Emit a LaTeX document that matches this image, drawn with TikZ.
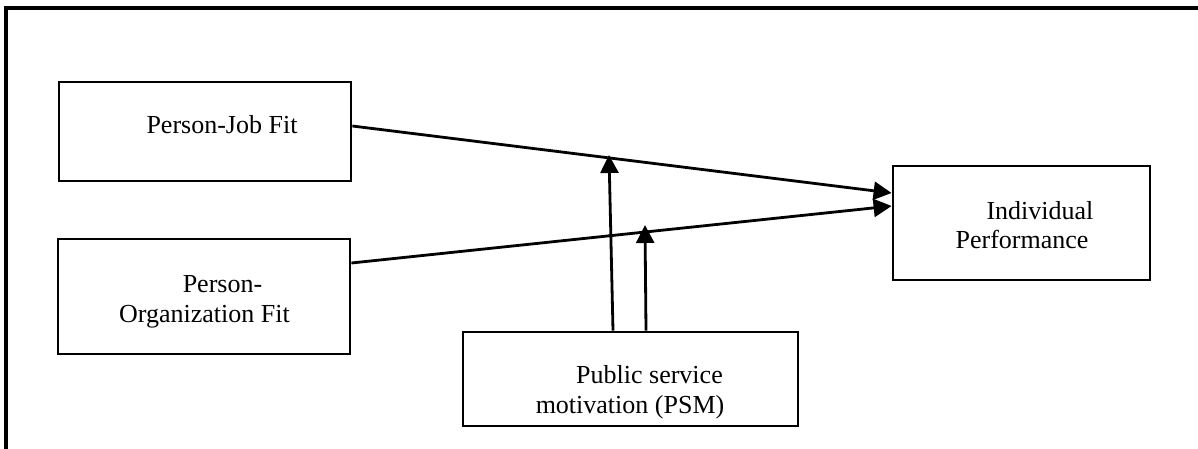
\documentclass[tikz,border=0pt]{standalone}
\usepackage{fontspec}
\setmainfont{Liberation Serif}
\usetikzlibrary{arrows.meta}
\begin{document}
\begin{tikzpicture}[x=1pt,y=-1pt,
  box/.style={draw,line width=2.8pt,rectangle,inner sep=0pt,minimum width=#1},
  txt/.style={font=\fontsize{26}{30}\selectfont,inner sep=0pt,anchor=base},
  conn/.style={line width=2.8pt,-{Triangle[length=18pt,width=18pt]}}]
\useasboundingbox (0,0) rectangle (1198,448);
\clip (0,0) rectangle (1198,448);
\draw[line width=3.2pt] (6,8) rectangle (1230,480);
% boxes
\node[box=292pt,minimum height=99pt] (pj) at (205,131.5) {};
\node[box=292pt,minimum height=115pt] (po) at (204,296.5) {};
\node[box=257pt,minimum height=114pt] (ip) at (1021.5,223) {};
\node[box=335pt,minimum height=94pt] (psm) at (630.5,379) {};
% texts
\node[txt] (pjt) at (222,133) {Person-Job Fit};
\node[txt] (pot1) at (222.5,292) {Person-};
\node[txt] (pot2) at (204.5,322) {Organization Fit};
\node[txt] (ipt1) at (1040,219) {Individual};
\node[txt] (ipt2) at (1022,248) {Performance};
\node[txt] (psmt1) at (649.5,383) {Public service};
\node[txt] (psmt2) at (630,413) {motivation (PSM)};
% connectors
\coordinate (pjs) at (pj.east |- 0,126);
\coordinate (ipa) at (ip.west |- 0,193);
\coordinate (pos) at (po.east |- 0,263);
\coordinate (ipb) at (ip.west |- 0,206);
\draw[conn] (pjs) -- (ipa);
\draw[conn] (pos) -- (ipb);
\coordinate (v1s) at (psm.north -| 613,0);
\coordinate (v1e) at (609,155);
\coordinate (v2s) at (psm.north -| 646,0);
\coordinate (v2e) at (645,225);
\draw[conn] (v1s) -- (v1e);
\draw[conn] (v2s) -- (v2e);
\end{tikzpicture}
\end{document}
